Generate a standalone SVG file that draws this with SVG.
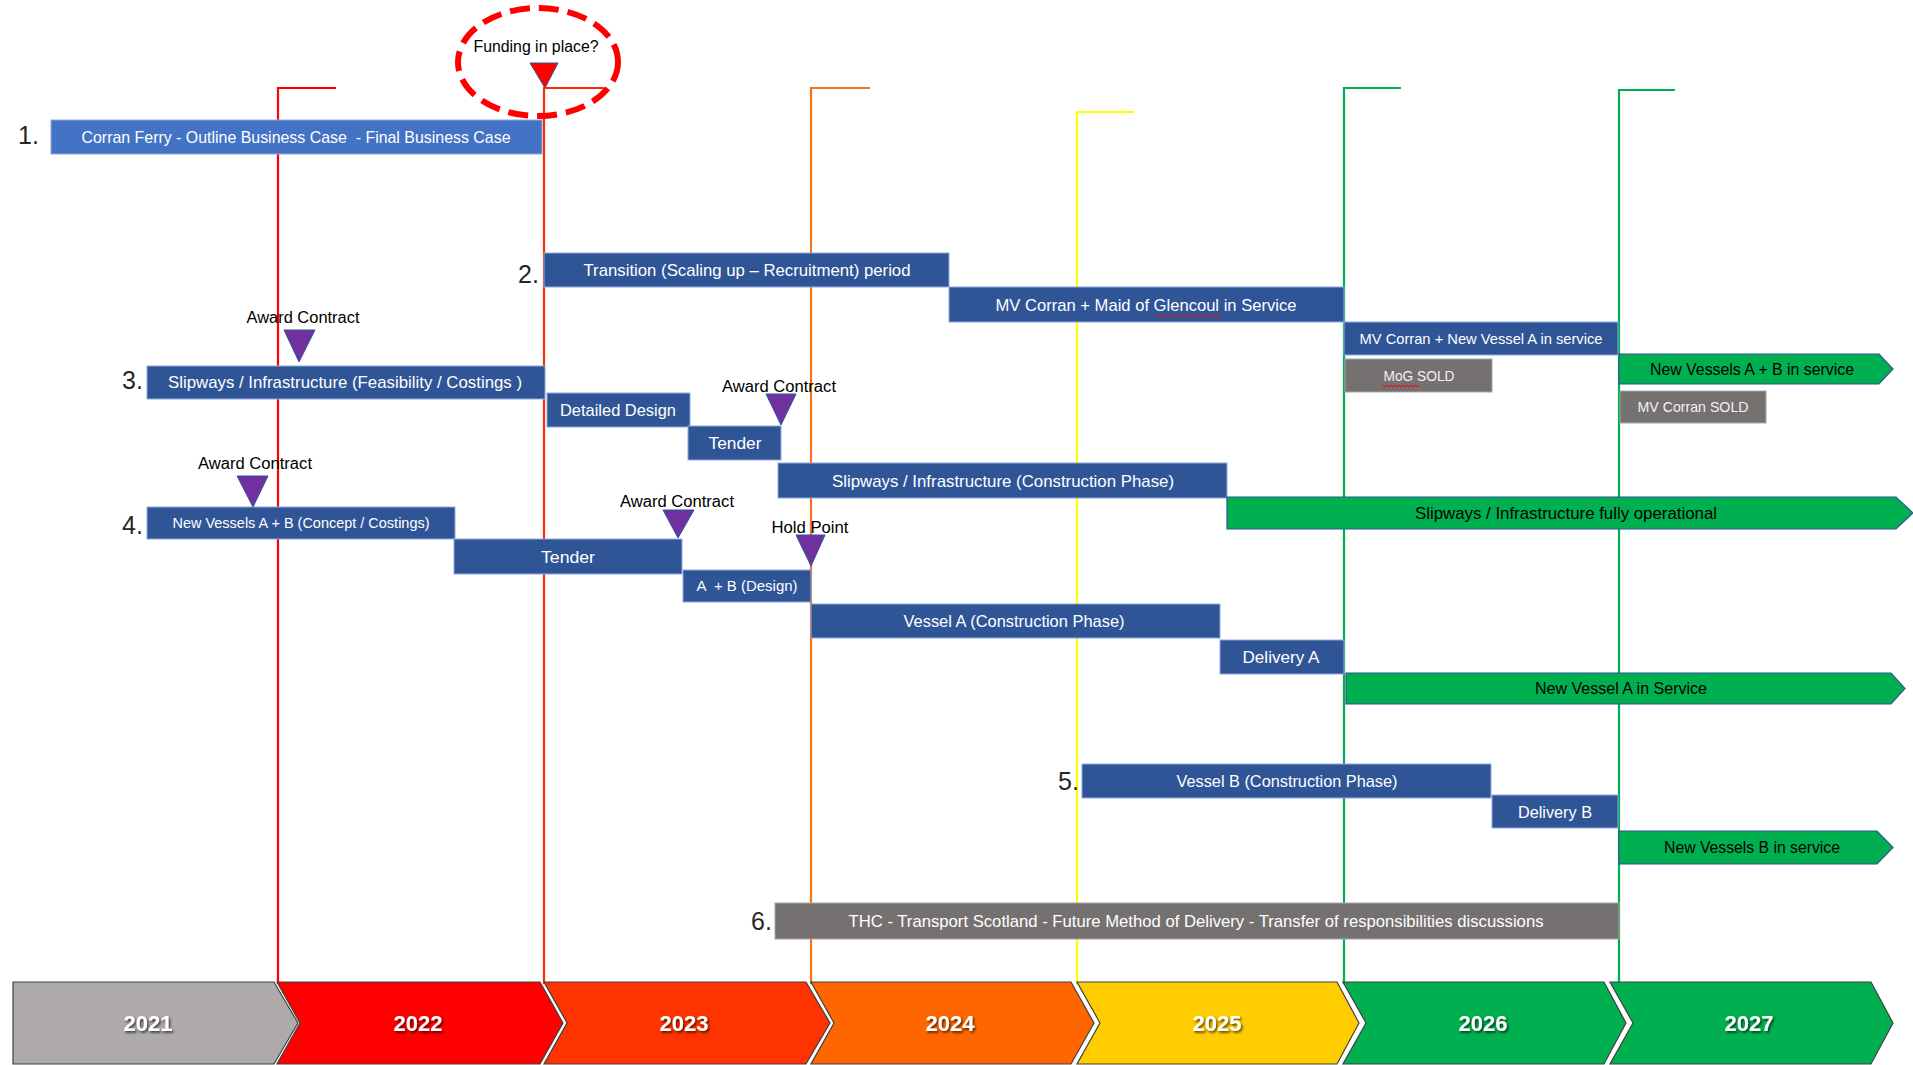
<svg xmlns="http://www.w3.org/2000/svg" width="1913" height="1065" viewBox="0 0 1913 1065">
  <defs>
    <style>
      .bar{fill:#2F5597;stroke:#8FAADC;stroke-width:1}
      .bar1{fill:#4472C4;stroke:#8FAADC;stroke-width:1}
      .grey{fill:#767171;stroke:#A6A6A6;stroke-width:1}
      .go{fill:#00B050;stroke:#2F5597;stroke-width:1.2}
      .t{font-family:"Liberation Sans",Arial,sans-serif;text-anchor:middle;white-space:pre}
      .lw{fill:#ffffff;font-size:17px}
      .ls{fill:#ffffff;font-size:15px}
      .lg{fill:#F2F2F2;font-size:15px}
      .lk{fill:#000000;font-size:17px}
      .note{fill:#000000;font-size:16px}
      .num{font-family:"Liberation Sans",Arial,sans-serif;font-size:25px;fill:#262626}
      .ms{fill:#7030A0;stroke:#2F5597;stroke-width:1}
      .yr{font-family:"Liberation Sans",Arial,sans-serif;font-weight:bold;font-size:22px;fill:#ffffff;text-anchor:middle;filter:url(#sh)}
      .chev{stroke:#404040;stroke-width:1.2}
      .mk{fill:none;stroke-width:2.2}
      .spell{fill:none;stroke:#FF0000;stroke-width:1}
    </style>
    <filter id="sh" x="-20%" y="-20%" width="150%" height="160%">
      <feDropShadow dx="1.5" dy="1.8" stdDeviation="1" flood-color="#000" flood-opacity="0.65"/>
    </filter>
  </defs>

  <rect width="1913" height="1065" fill="#ffffff"/>

  <!-- year boundary markers -->
  <g id="markers">
    <path class="mk" stroke="#FF0000" d="M336,88 H278 V984"/>
    <path class="mk" stroke="#FF2A00" d="M604,88 H544 V984"/>
    <path class="mk" stroke="#F4731F" d="M870,88 H811 V984"/>
    <path class="mk" stroke="#FFFF00" d="M1134,112 H1077 V984"/>
    <path class="mk" stroke="#00B050" d="M1401,88 H1344 V984"/>
    <path class="mk" stroke="#00B050" d="M1675,90 H1619 V984"/>
  </g>

  <!-- funding milestone -->
  <g id="funding">
    <text class="t note" x="536" y="52" textLength="125" lengthAdjust="spacingAndGlyphs">Funding in place?</text>
    <polygon points="530,63 558,63 545,88" fill="#FF0000" stroke="#2F5597" stroke-width="1"/>
    <ellipse cx="538" cy="62" rx="80" ry="54" fill="none" stroke="#FF0000" stroke-width="6" stroke-dasharray="20 9"/>
  </g>

  <!-- 1. business case -->
  <g id="n1">
    <text class="num" x="18" y="144">1.</text>
    <rect class="bar1" x="51" y="120" width="491" height="34"/>
    <text class="t lw" x="296" y="143" textLength="429" lengthAdjust="spacingAndGlyphs">Corran Ferry - Outline Business Case  - Final Business Case</text>
  </g>

  <!-- 2. transition and service periods -->
  <g id="n2">
    <text class="num" x="518" y="283">2.</text>
    <rect class="bar" x="544" y="253" width="405" height="34"/>
    <text class="t lw" x="747" y="276" textLength="327" lengthAdjust="spacingAndGlyphs">Transition (Scaling up – Recruitment) period</text>
  </g>
  <g id="n2-maid">
    <rect class="bar" x="949" y="287" width="395" height="35"/>
    <text class="t lw" x="1146" y="311" textLength="301" lengthAdjust="spacingAndGlyphs">MV Corran + Maid of Glencoul in Service</text>
    <path class="spell" d="M1156,315 l2,2 l2,-2 l2,2 l2,-2 l2,2 l2,-2 l2,2 l2,-2 l2,2 l2,-2 l2,2 l2,-2 l2,2 l2,-2 l2,2 l2,-2 l2,2 l2,-2 l2,2 l2,-2 l2,2 l2,-2 l2,2 l2,-2 l2,2 l2,-2 l2,2 l2,-2 l2,2 l2,-2 l2,2 l2,-2 l2,2"/>
  </g>
  <g id="n2-newA">
    <rect class="bar" x="1344" y="322" width="274" height="33"/>
    <text class="t ls" x="1481" y="344" textLength="243" lengthAdjust="spacingAndGlyphs">MV Corran + New Vessel A in service</text>
  </g>
  <g id="n2-mog">
    <rect class="grey" x="1345" y="359" width="147" height="33"/>
    <text class="t lg" x="1419" y="381" textLength="71" lengthAdjust="spacingAndGlyphs">MoG SOLD</text>
    <path class="spell" d="M1383,385 l2,2 l2,-2 l2,2 l2,-2 l2,2 l2,-2 l2,2 l2,-2 l2,2 l2,-2 l2,2 l2,-2 l2,2 l2,-2 l2,2 l2,-2 l2,2 l2,-2"/>
  </g>
  <g id="n2-newAB">
    <polygon class="go" points="1619,354 1879,354 1893,369 1879,384 1619,384"/>
    <text class="t lk" x="1752" y="375" textLength="204" lengthAdjust="spacingAndGlyphs">New Vessels A + B in service</text>
  </g>
  <g id="n2-corransold">
    <rect class="grey" x="1620" y="391" width="146" height="32"/>
    <text class="t lg" x="1693" y="412" textLength="111" lengthAdjust="spacingAndGlyphs">MV Corran SOLD</text>
  </g>

  <!-- 3. slipways / infrastructure -->
  <g id="n3">
    <text class="num" x="122" y="389">3.</text>
    <rect class="bar" x="147" y="366" width="398" height="33"/>
    <text class="t lw" x="345" y="388" textLength="354" lengthAdjust="spacingAndGlyphs">Slipways / Infrastructure (Feasibility / Costings )</text>
  </g>
  <g id="n3-award">
    <text class="t note" x="303" y="323" textLength="113" lengthAdjust="spacingAndGlyphs">Award Contract</text>
    <polygon class="ms" points="284,330 315,330 299,362"/>
  </g>
  <g id="n3-design">
    <rect class="bar" x="547" y="393" width="143" height="34"/>
    <text class="t lw" x="618" y="416" textLength="116" lengthAdjust="spacingAndGlyphs">Detailed Design</text>
  </g>
  <g id="n3-tender">
    <rect class="bar" x="688" y="426" width="93" height="34"/>
    <text class="t lw" x="735" y="449" textLength="53" lengthAdjust="spacingAndGlyphs">Tender</text>
  </g>
  <g id="n3-award2">
    <text class="t note" x="779" y="392" textLength="114" lengthAdjust="spacingAndGlyphs">Award Contract</text>
    <polygon class="ms" points="766,394 796,394 781,425"/>
  </g>
  <g id="n3-construct">
    <rect class="bar" x="778" y="463" width="449" height="35"/>
    <text class="t lw" x="1003" y="487" textLength="342" lengthAdjust="spacingAndGlyphs">Slipways / Infrastructure (Construction Phase)</text>
  </g>
  <g id="n3-operational">
    <polygon class="go" points="1227,497 1896,497 1913,513 1896,529 1227,529"/>
    <text class="t lk" x="1566" y="519" textLength="302" lengthAdjust="spacingAndGlyphs">Slipways / Infrastructure fully operational</text>
  </g>

  <!-- 4. new vessels -->
  <g id="n4">
    <text class="num" x="122" y="534">4.</text>
    <rect class="bar" x="147" y="507" width="308" height="32"/>
    <text class="t ls" x="301" y="528" textLength="257" lengthAdjust="spacingAndGlyphs">New Vessels A + B (Concept / Costings)</text>
  </g>
  <g id="n4-award">
    <text class="t note" x="255" y="469" textLength="114" lengthAdjust="spacingAndGlyphs">Award Contract</text>
    <polygon class="ms" points="237,476 268,476 253,507"/>
  </g>
  <g id="n4-tender">
    <rect class="bar" x="454" y="539" width="228" height="35"/>
    <text class="t lw" x="568" y="563" textLength="54" lengthAdjust="spacingAndGlyphs">Tender</text>
  </g>
  <g id="n4-award2">
    <text class="t note" x="677" y="507" textLength="114" lengthAdjust="spacingAndGlyphs">Award Contract</text>
    <polygon class="ms" points="663,510 694,510 678,538"/>
  </g>
  <g id="n4-hold">
    <text class="t note" x="810" y="533" textLength="77" lengthAdjust="spacingAndGlyphs">Hold Point</text>
    <polygon class="ms" points="796,535 825,535 811,566"/>
  </g>
  <g id="n4-design">
    <rect class="bar" x="683" y="570" width="128" height="32"/>
    <text class="t ls" x="747" y="591" textLength="101" lengthAdjust="spacingAndGlyphs">A  + B (Design)</text>
  </g>
  <g id="n4-vesselA">
    <rect class="bar" x="811" y="604" width="409" height="34"/>
    <text class="t lw" x="1014" y="627" textLength="221" lengthAdjust="spacingAndGlyphs">Vessel A (Construction Phase)</text>
  </g>
  <g id="n4-deliveryA">
    <rect class="bar" x="1220" y="640" width="124" height="34"/>
    <text class="t lw" x="1281" y="663" textLength="77" lengthAdjust="spacingAndGlyphs">Delivery A</text>
  </g>
  <g id="n4-serviceA">
    <polygon class="go" points="1346,673 1891,673 1905,688.5 1891,704 1346,704"/>
    <text class="t lk" x="1621" y="694" textLength="172" lengthAdjust="spacingAndGlyphs">New Vessel A in Service</text>
  </g>

  <!-- 5. vessel B -->
  <g id="n5">
    <text class="num" x="1058" y="790">5.</text>
    <rect class="bar" x="1082" y="764" width="409" height="34"/>
    <text class="t lw" x="1287" y="787" textLength="221" lengthAdjust="spacingAndGlyphs">Vessel B (Construction Phase)</text>
  </g>
  <g id="n5-deliveryB">
    <rect class="bar" x="1492" y="795" width="126" height="33"/>
    <text class="t lw" x="1555" y="818" textLength="74" lengthAdjust="spacingAndGlyphs">Delivery B</text>
  </g>
  <g id="n5-serviceB">
    <polygon class="go" points="1619,831 1877,831 1893,847.5 1877,864 1619,864"/>
    <text class="t lk" x="1752" y="853" textLength="176" lengthAdjust="spacingAndGlyphs">New Vessels B in service</text>
  </g>

  <!-- 6. delivery method discussions -->
  <g id="n6">
    <text class="num" x="751" y="930">6.</text>
    <rect class="grey" x="775" y="903" width="844" height="36"/>
    <text class="t lw" x="1196" y="927" fill="#F2F2F2" textLength="695" lengthAdjust="spacingAndGlyphs">THC - Transport Scotland - Future Method of Delivery - Transfer of responsibilities discussions</text>
  </g>

  <!-- year timeline -->
  <g id="years">
    <g id="y2021">
      <path class="chev" fill="#AEAAAA" d="M13,982 H274 L298,1023 L274,1064 H13 Z"/>
      <text class="yr" x="148" y="1031">2021</text>
    </g>
    <g id="y2022">
      <path class="chev" fill="#FF0000" d="M277,982 H540 L563,1023 L540,1064 H277 L300,1023 Z"/>
      <text class="yr" x="418" y="1031">2022</text>
    </g>
    <g id="y2023">
      <path class="chev" fill="#FF3300" d="M544,982 H806 L830,1023 L806,1064 H544 L567,1023 Z"/>
      <text class="yr" x="684" y="1031">2023</text>
    </g>
    <g id="y2024">
      <path class="chev" fill="#FF6600" d="M811,982 H1071 L1094,1023 L1071,1064 H811 L834,1023 Z"/>
      <text class="yr" x="950" y="1031">2024</text>
    </g>
    <g id="y2025">
      <path class="chev" fill="#FFCC00" d="M1077,982 H1337 L1359,1023 L1337,1064 H1077 L1100,1023 Z"/>
      <text class="yr" x="1217" y="1031">2025</text>
    </g>
    <g id="y2026">
      <path class="chev" fill="#00B050" d="M1343,982 H1604 L1626,1023 L1604,1064 H1343 L1366,1023 Z"/>
      <text class="yr" x="1483" y="1031">2026</text>
    </g>
    <g id="y2027">
      <path class="chev" fill="#00B050" d="M1610,982 H1871 L1893,1023 L1871,1064 H1610 L1633,1023 Z"/>
      <text class="yr" x="1749" y="1031">2027</text>
    </g>
  </g>
</svg>
